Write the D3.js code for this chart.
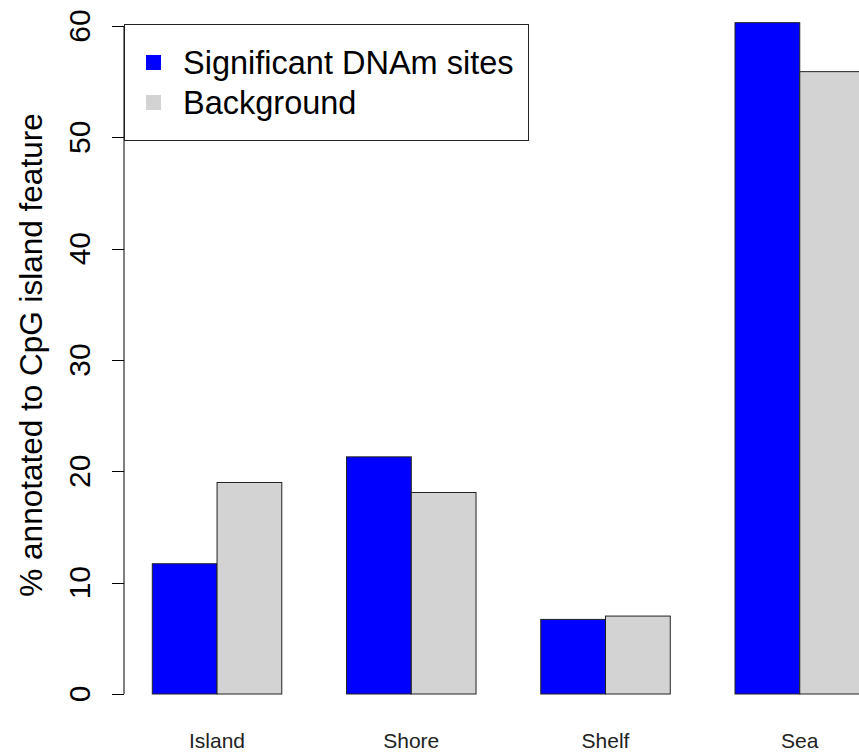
<!DOCTYPE html>
<html>
<head>
<meta charset="utf-8">
<script src="https://cdn.jsdelivr.net/npm/d3@7"></script>
<style>
  html, body { margin: 0; padding: 0; background: #fff; }
  svg { display: block; font-family: "Liberation Sans", Arial, Helvetica, sans-serif; }
</style>
</head>
<body>
<svg id="chart" width="859" height="754"></svg>
<script>
// CpG island feature categories and the two series compared in each
const categories = ["Island", "Shore", "Shelf", "Sea"];
const seriesNames = ["Significant DNAm sites", "Background"];
const seriesColors = ["#0000FF", "#D3D3D3"];
const significant = [11.7, 21.3, 6.7, 60.3];
const background = [19.0, 18.1, 7.0, 55.9];
const yTicks = [0, 10, 20, 30, 40, 50, 60];
const yTitle = "% annotated to CpG island feature";

const rows = categories.map((c, i) => ({ cat: c, values: [significant[i], background[i]] }));

const svg = d3.select("#chart");

// y: 0..60 mapped onto the plotting region
const y = d3.scaleLinear().domain([0, 60]).range([694, 26]);

// groups: each group is two bars wide, separated by a one-bar gap
const x0 = d3.scaleBand()
  .domain(categories)
  .range([152.3, 864.5])
  .paddingInner(1 / 3)
  .paddingOuter(0);
const x1 = d3.scaleBand()
  .domain(d3.range(seriesNames.length))
  .range([0, x0.bandwidth()])
  .padding(0);

// bars
const groups = svg.append("g").selectAll("g")
  .data(rows)
  .join("g")
  .attr("transform", d => `translate(${x0(d.cat)},0)`);

groups.selectAll("rect")
  .data(d => d.values.map((v, i) => ({ v, i })))
  .join("rect")
  .attr("x", d => x1(d.i))
  .attr("width", x1.bandwidth())
  .attr("y", d => y(d.v))
  .attr("height", d => y(0) - y(d.v))
  .attr("fill", d => seriesColors[d.i])
  .attr("stroke", "#222")
  .attr("stroke-width", 1);

// category labels under each group
svg.append("g").selectAll("text")
  .data(categories)
  .join("text")
  .attr("x", d => x0(d) + x0.bandwidth() / 2)
  .attr("y", 748)
  .attr("text-anchor", "middle")
  .attr("font-size", 21)
  .attr("fill", "#222")
  .text(d => d);

// y axis: line, ticks and rotated labels
const axisX = 124;
const yAxis = svg.append("g");
yAxis.append("line")
  .attr("x1", axisX).attr("x2", axisX)
  .attr("y1", y(0)).attr("y2", y(60))
  .attr("stroke", "#000").attr("stroke-width", 1);
yAxis.selectAll("line.tick")
  .data(yTicks)
  .join("line")
  .attr("class", "tick")
  .attr("x1", axisX - 12).attr("x2", axisX)
  .attr("y1", d => Math.round(y(d)) + 0.5).attr("y2", d => Math.round(y(d)) + 0.5)
  .attr("stroke", "#000").attr("stroke-width", 1);
yAxis.selectAll("text")
  .data(yTicks)
  .join("text")
  .attr("transform", d => `translate(90,${y(d)}) rotate(-90)`)
  .attr("text-anchor", "middle")
  .attr("font-size", 30)
  .attr("fill", "#000")
  .text(d => d);

// y axis title
svg.append("text")
  .attr("transform", `translate(42,${(y(0) + y(60)) / 2 - 5}) rotate(-90)`)
  .attr("text-anchor", "middle")
  .attr("font-size", 31.5)
  .attr("fill", "#000")
  .text(yTitle);

// legend box in the top-left corner of the plot
const legend = svg.append("g");
legend.append("rect")
  .attr("x", 124.5).attr("y", 24.5)
  .attr("width", 404).attr("height", 116)
  .attr("fill", "#fff")
  .attr("stroke", "#222").attr("stroke-width", 1);
const items = legend.selectAll("g.item")
  .data(seriesNames)
  .join("g")
  .attr("class", "item")
  .attr("transform", (d, i) => `translate(0,${62.5 + i * 40})`);
items.append("rect")
  .attr("x", 146).attr("y", -7.5)
  .attr("width", 15).attr("height", 15)
  .attr("fill", (d, i) => seriesColors[i]);
items.append("text")
  .attr("x", 183).attr("y", 11)
  .attr("font-size", 32.5)
  .attr("fill", "#000")
  .text(d => d);
</script>
</body>
</html>
